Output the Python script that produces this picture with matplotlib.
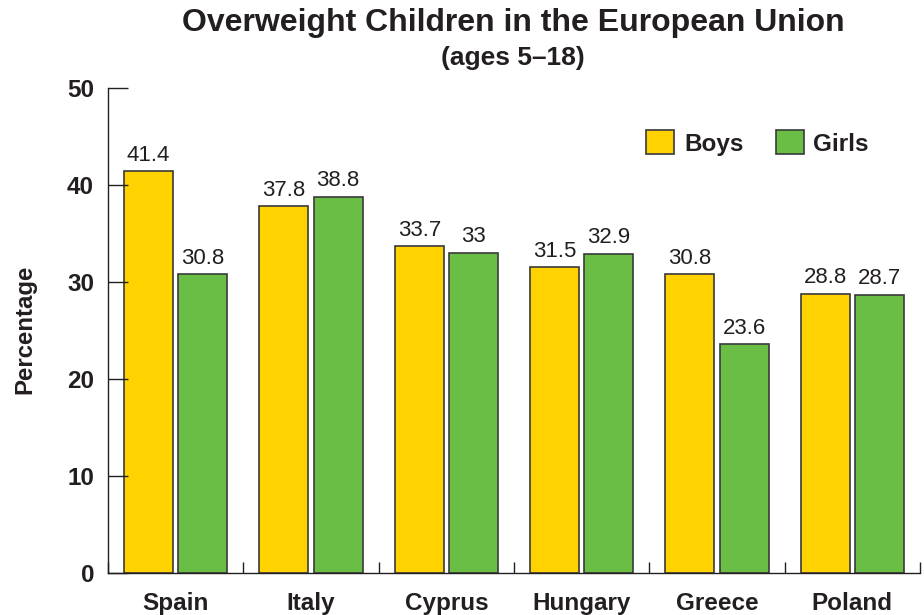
import numpy as np
import matplotlib.pyplot as plt
from matplotlib.ticker import FixedLocator

countries = ['Spain', 'Italy', 'Cyprus', 'Hungary', 'Greece', 'Poland']
boys = [41.4, 37.8, 33.7, 31.5, 30.8, 28.8]
girls = [30.8, 38.8, 33, 32.9, 23.6, 28.7]
y_ticks = [0, 10, 20, 30, 40, 50]

yellow = '#FFD200'
green = '#6ABD45'
edge = '#3a3a3a'
ink = '#231f20'

plt.rcParams['font.family'] = ['Liberation Sans', 'DejaVu Sans']

fig = plt.figure(figsize=(9.24, 6.15), dpi=100)
ax = fig.add_axes([108 / 924, 42 / 615, 812 / 924, 485 / 615])

x = np.arange(len(countries))
w = 0.362
b1 = ax.bar(x - 0.2, boys, w, color=yellow, edgecolor=edge, linewidth=1.2, label='Boys')
b2 = ax.bar(x + 0.2, girls, w, color=green, edgecolor=edge, linewidth=1.2, label='Girls')

# value labels over each bar
for bars, vals in ((b1, boys), (b2, girls)):
    for rect, v in zip(bars, vals):
        ax.annotate(f'{v:g}', (rect.get_x() + rect.get_width() / 2, v),
                    xytext=(0, 4), textcoords='offset points',
                    ha='center', va='bottom', fontsize=16, color=ink)

ax.set_xlim(-0.5, len(countries) - 0.5)
ax.set_ylim(0, 50)
ax.set_yticks(y_ticks)
ax.set_yticklabels([str(t) for t in y_ticks], fontsize=17.5, fontweight='bold', color=ink)
ax.set_xticks(x)
ax.set_xticklabels(countries, fontsize=17.5, fontweight='bold', color=ink)
ax.xaxis.set_minor_locator(FixedLocator(np.arange(len(countries) + 1) - 0.5))

ax.tick_params(axis='y', direction='in', length=14.5, width=1, color=ink, pad=10)
ax.tick_params(axis='x', which='major', length=0, pad=14)
ax.tick_params(axis='x', which='minor', direction='in', length=8, width=1, color=ink)

for s in ('top', 'right'):
    ax.spines[s].set_visible(False)
for s in ('left', 'bottom'):
    ax.spines[s].set_color(ink)
    ax.spines[s].set_linewidth(1)

leg = ax.legend(ncol=2, frameon=False, prop={'weight': 'bold', 'size': 17.5},
                handlelength=1.15, handleheight=1.15, handletextpad=0.41,
                columnspacing=1.32, borderpad=0, borderaxespad=0,
                loc='center right', bbox_to_anchor=(869 / 924, 1 - 143 / 615),
                bbox_transform=fig.transFigure)
for t in leg.get_texts():
    t.set_color(ink)

fig.text(513 / 924, 1 - 23 / 615, 'Overweight Children in the European Union',
         ha='center', va='center', fontsize=23, fontweight='bold', color=ink)
fig.text(513 / 924, 1 - 58 / 615, '(ages 5\u201318)',
         ha='center', va='center', fontsize=19, fontweight='bold', color=ink)
fig.text(25 / 924, 1 - 329 / 615, 'Percentage', rotation=90,
         ha='center', va='center', fontsize=17.3, fontweight='bold', color=ink)

fig.savefig('out.png', dpi=100)
